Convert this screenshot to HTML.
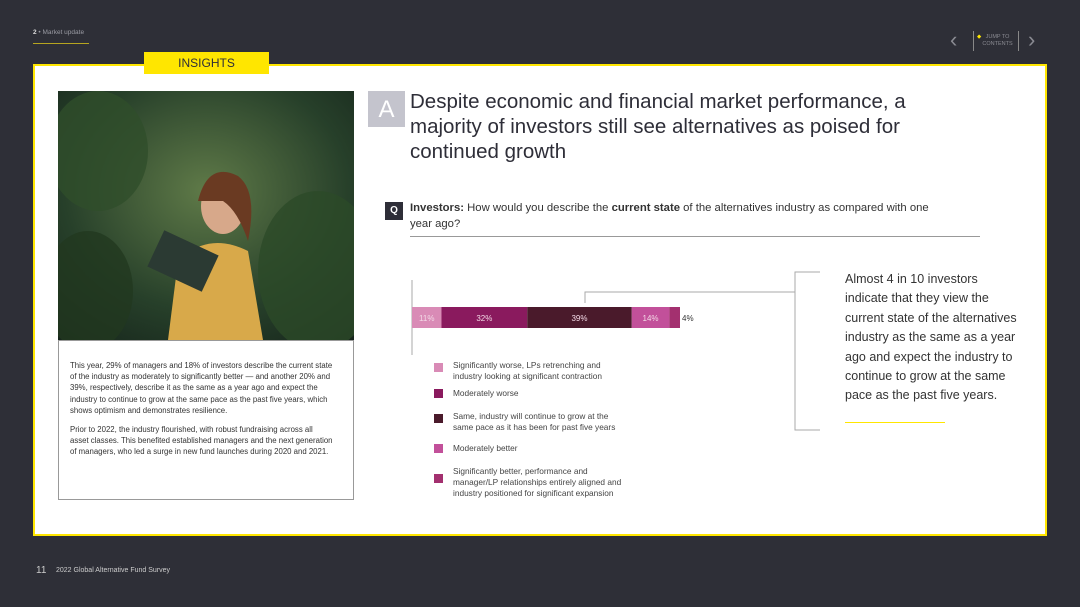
<!DOCTYPE html>
<html><head><meta charset="utf-8"><style>
body{margin:0;width:1080px;height:607px;background:#2e2f37;font-family:"Liberation Sans",sans-serif;position:relative;overflow:hidden}
.a{position:absolute}
</style></head><body>
<div class="a" style="left:33px;top:29px;font-size:6.5px;color:#9a9ba3"><b style="color:#ddd">2</b> • Market update</div>
<div class="a" style="left:33px;top:43px;width:56px;height:1px;background:#b6a520"></div>
<div class="a" style="left:950px;top:27px;color:#8a8b92;font-size:22px">‹</div>
<div class="a" style="left:973px;top:31px;width:46px;height:20px;border-left:1px solid #888;border-right:1px solid #888;font-size:5.5px;color:#8a8b92;text-align:center;line-height:7px;padding-top:3px;box-sizing:border-box"><span style="color:#ffe600;position:absolute;left:3px;top:3px">◆</span>&nbsp;&nbsp;JUMP TO<br>&nbsp;&nbsp;CONTENTS</div>
<div class="a" style="left:1028px;top:27px;color:#8a8b92;font-size:22px">›</div>

<div class="a" style="left:33px;top:64px;width:1014px;height:472px;background:#fff;border:2px solid #ffe600;box-sizing:border-box"></div>
<div class="a" style="left:144px;top:52px;width:125px;height:22px;background:#ffe600;color:#2e2e38;font-size:12px;text-align:center;line-height:22px">INSIGHTS</div>

<svg class="a" style="left:58px;top:91px" width="296" height="249">
<defs><radialGradient id="g" cx="0.5" cy="0.4" r="0.8"><stop offset="0" stop-color="#5f7a48"/><stop offset="0.6" stop-color="#27402a"/><stop offset="1" stop-color="#14221a"/></radialGradient></defs>
<rect width="296" height="249" fill="url(#g)"/>
<ellipse cx="40" cy="60" rx="50" ry="60" fill="#2f4e2a" opacity=".8"/>
<ellipse cx="260" cy="180" rx="60" ry="80" fill="#2c4a28" opacity=".8"/>
<ellipse cx="30" cy="200" rx="45" ry="60" fill="#22381f" opacity=".8"/>
<path d="M110 249 L120 170 Q150 140 190 160 L205 249 Z" fill="#d8a94a"/>
<ellipse cx="165" cy="115" rx="22" ry="28" fill="#d7a88a"/>
<path d="M140 110 Q150 70 180 85 Q200 100 190 150 Q180 120 165 110 Z" fill="#6a3a22"/>
<rect x="95" y="150" width="60" height="40" fill="#2b3a33" transform="rotate(25 125 170)"/>
</svg>
<div class="a" style="left:58px;top:340px;width:296px;height:160px;border:1px solid #999;box-sizing:border-box;padding:19px 20px 0 11px;font-size:7.8px;line-height:11.2px;color:#333">
<p style="margin:0 0 8px">This year, 29% of managers and 18% of investors describe the current state of the industry as moderately to significantly better — and another 20% and 39%, respectively, describe it as the same as a year ago and expect the industry to continue to grow at the same pace as the past five years, which shows optimism and demonstrates resilience.</p>
<p style="margin:0">Prior to 2022, the industry flourished, with robust fundraising across all asset classes. This benefited established managers and the next generation of managers, who led a surge in new fund launches during 2020 and 2021.</p></div>

<div class="a" style="left:368px;top:91px;width:37px;height:36px;background:#c4c4cd;color:#fff;font-size:24px;text-align:center;line-height:38px">A</div>
<div class="a" style="left:410px;top:89px;width:550px;font-size:20.5px;line-height:25px;color:#2e2e38">Despite economic and financial market performance, a majority of investors still see alternatives as poised for continued growth</div>
<div class="a" style="left:385px;top:202px;width:18px;height:18px;background:#2e2e38;color:#fff;font-size:10px;font-weight:bold;text-align:center;line-height:18px">Q</div>
<div class="a" style="left:410px;top:200px;width:575px;font-size:11.3px;line-height:16px;color:#333;white-space:nowrap"><b>Investors:</b> How would you describe the <b>current state</b> of the alternatives industry as compared with one<br>year ago?</div>
<div class="a" style="left:410px;top:236px;width:570px;height:1px;background:#999"></div>

<svg class="a" id="chart" style="left:0;top:0" width="1080" height="607"></svg>

<div class="a" style="left:845px;top:270px;width:200px;font-size:12.5px;line-height:19.4px;color:#333;white-space:nowrap">Almost 4 in 10 investors<br>indicate that they view the<br>current state of the alternatives<br>industry as the same as a year<br>ago and expect the industry to<br>continue to grow at the same<br>pace as the past five years.</div>
<div class="a" style="left:845px;top:422px;width:100px;height:1px;background:#ffe600"></div>

<div class="a" style="left:36px;top:565px;font-size:10px;color:#ccc">11</div>
<div class="a" style="left:56px;top:567px;font-size:7px;color:#ccc">2022 Global Alternative Fund Survey</div>

<script>
const categories=["Significantly worse, LPs retrenching and industry looking at significant contraction","Moderately worse","Same, industry will continue to grow at the same pace as it has been for past five years","Moderately better","Significantly better, performance and manager/LP relationships entirely aligned and industry positioned for significant expansion"];
const values=[11,32,39,14,4];
const colors=["#d98bb6","#8a1a5e","#4a1a2b","#c2509a","#a3306f"];
const labels=["11%","32%","39%","14%","4%"];
const NS="http://www.w3.org/2000/svg";
const svg=document.getElementById('chart');
const x0=412,barY=307,barH=21,scale=268/100;
const xs=v=>x0+v*scale;
function mk(t,a){const e=document.createElementNS(NS,t);for(const k in a)e.setAttribute(k,a[k]);svg.appendChild(e);return e;}
const axis=mk('line',{x1:412,y1:280,x2:412,y2:355,stroke:'#aaa','stroke-width':1});


const br=mk('path',{d:'M585 303 V292 H795 M820 272 H795 V430 H820',fill:'none',stroke:'#aaa','stroke-width':1});


let cum=0;
values.forEach((v,i)=>{
 const r=mk('rect',{x:xs(cum),y:barY,width:v*scale,height:barH,fill:colors[i]});
 
 
 const last=i===values.length-1;
 const t=mk('text',{x:last?xs(cum+v)+2:xs(cum+v/2),y:barY+14,'font-size':8,fill:last?'#333':'#f3d9e6','text-anchor':last?'start':'middle','font-family':'Liberation Sans'});
 t.textContent=labels[i];
 
 
 cum+=v;
});
const ly=[361,389,412,444,467];
const lines=[["Significantly worse, LPs retrenching and","industry looking at significant contraction"],["Moderately worse"],["Same, industry will continue to grow at the","same pace as it has been for past five years"],["Moderately better"],["Significantly better, performance and","manager/LP relationships entirely aligned and","industry positioned for significant expansion"]];
categories.forEach((c,i)=>{
 const s=mk('rect',{x:434,y:ly[i]+(lines[i].length>1?(lines[i].length===3?7:2):0),width:9,height:9,fill:colors[i]});
 
 
 lines[i].forEach((l,j)=>{
  const t=mk('text',{x:453,y:ly[i]+7+j*11,'font-size':8.3,fill:'#444','font-family':'Liberation Sans'});
  t.textContent=l;
  
  
 });
});
</script>
</body></html>
